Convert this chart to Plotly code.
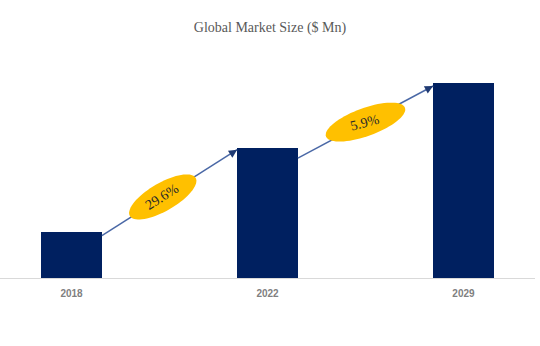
import math
import plotly.graph_objects as go

# Market size by year ($ Mn)
years = ["2018", "2022", "2029"]
market_size = [236, 666, 997]
cagr_labels = ["29.6%", "5.9%"]

BAR_W = 0.31
X_RANGE = [-0.365, 2.365]
Y_RANGE = [0, 1115]
MARGIN = dict(l=0, r=5, t=60, b=68)
W, H = 540, 346

plot_w = W - MARGIN["l"] - MARGIN["r"]
plot_h = H - MARGIN["t"] - MARGIN["b"]
px_x = plot_w / (X_RANGE[1] - X_RANGE[0])   # pixels per x unit
px_y = plot_h / (Y_RANGE[1] - Y_RANGE[0])   # pixels per y unit

xs = list(range(len(years)))

fig = go.Figure()
fig.add_trace(go.Bar(
    x=xs, y=market_size, width=BAR_W,
    marker=dict(color="#002060", line=dict(width=0)),
    hoverinfo="skip", showlegend=False,
))

# growth arrows between consecutive bars, with a rotated ellipse badge
ellipse_geom = [  # (semi-major px, semi-minor px, tilt deg, position along arrow, text angle)
    (38, 14, 30, 0.45, -32),
    (42, 14, 20, 0.50, -15),
]
shapes = []
annotations = []
for i, label in enumerate(cagr_labels):
    x0, y0 = xs[i] + BAR_W / 2, market_size[i] * 0.92
    x1, y1 = xs[i + 1] - BAR_W / 2, market_size[i + 1] * 0.985
    fig.add_trace(go.Scatter(
        x=[x0, x1], y=[y0, y1], mode="lines",
        line=dict(color="#4a68a6", width=1.5),
        hoverinfo="skip", showlegend=False,
    ))
    # arrow head at the end of the line
    annotations.append(dict(
        x=x1, y=y1, ax=x1 - (x1 - x0) * 0.04, ay=y1 - (y1 - y0) * 0.04,
        xref="x", yref="y", axref="x", ayref="y",
        showarrow=True, arrowhead=2, arrowsize=1.1, arrowwidth=1.5,
        arrowcolor="#1f3a73", text="",
    ))
    a, b, tilt, t, txt_ang = ellipse_geom[i]
    cx = x0 + (x1 - x0) * t
    cy = y0 + (y1 - y0) * t
    th = math.radians(tilt)
    pts = []
    for k in range(73):
        phi = 2 * math.pi * k / 72
        dx = a * math.cos(phi) * math.cos(th) - b * math.sin(phi) * math.sin(th)
        dy = a * math.cos(phi) * math.sin(th) + b * math.sin(phi) * math.cos(th)
        pts.append((cx + dx / px_x, cy + dy / px_y))
    path = "M " + " L ".join(f"{px:.5f},{py:.3f}" for px, py in pts) + " Z"
    shapes.append(dict(
        type="path", path=path, xref="x", yref="y", layer="above",
        fillcolor="#FFC000", line=dict(width=0),
    ))
    annotations.append(dict(
        x=cx, y=cy, xref="x", yref="y", text=label, showarrow=False,
        textangle=txt_ang,
        font=dict(family="Liberation Serif", size=14, color="#2a2a2a"),
    ))

fig.update_layout(
    width=W, height=H, margin=MARGIN,
    paper_bgcolor="white", plot_bgcolor="white",
    title=dict(
        text="Global Market Size ($ Mn)", x=0.5, xanchor="center",
        y=1 - 27 / H, yanchor="middle", yref="container",
        font=dict(family="Liberation Serif", size=14, color="#595959"),
    ),
    xaxis=dict(
        range=X_RANGE, tickmode="array", tickvals=xs, ticktext=years,
        showgrid=False, zeroline=False, showline=True,
        linecolor="#d9d9d9", linewidth=1, ticks="",
        ticklabelstandoff=6,
        tickfont=dict(family="Liberation Sans", size=10, color="#808080",
                      weight="bold"),
    ),
    yaxis=dict(range=Y_RANGE, visible=False, showgrid=False, zeroline=False),
    shapes=shapes, annotations=annotations,
    bargap=0,
)

fig.write_html("out.html")
